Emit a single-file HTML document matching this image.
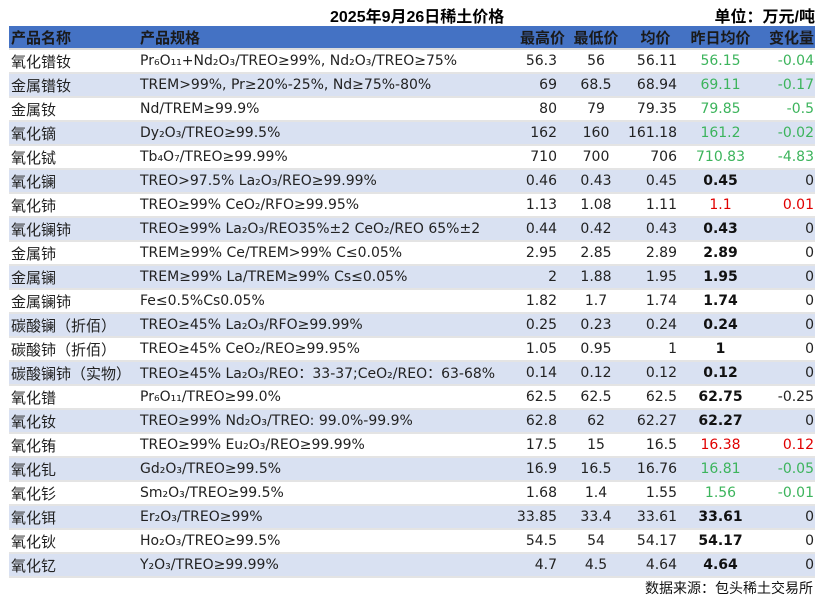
<!DOCTYPE html>
<html><head><meta charset="utf-8"><style>
body{margin:0;width:819px;height:596px;background:#fff;font-family:"DejaVu Sans","Noto Sans CJK SC",sans-serif;position:relative;overflow:hidden;color:#222}
.t{position:absolute;top:3px;font-weight:bold;font-size:16px;color:#000;font-family:"Liberation Sans","Noto Sans CJK SC",sans-serif}
table{position:absolute;left:9px;top:26px;border-collapse:collapse;table-layout:fixed;font-size:14px}
td{height:22px;padding:0;white-space:nowrap;overflow:visible;border-bottom:2px solid #e4e4e4}
tr.h td{background:#4472C4;font-weight:bold;font-size:15px;color:#1a1a1a;height:22px;border-bottom:2px solid #ddd;font-family:"Liberation Sans","Noto Sans CJK SC",sans-serif}
tr:nth-child(odd):not(.h) td{background:#D9E1F2}
td.n{padding-left:2px;font-size:15px}
td.a{text-align:right;padding-right:10px}
td.b{text-align:center}
td.c{text-align:right;padding-right:9px}
td.d{text-align:center}
td.e{text-align:right;padding-right:1px}
.g{color:#3cb45c}.r{color:#e00000}.k{font-weight:bold;color:#111}
.f{position:absolute;right:6px;top:578px;font-size:14px;color:#111;font-family:"Noto Sans CJK SC",sans-serif}
</style></head><body>
<div class="t" style="left:330px">2025年9月26日稀土价格</div>
<div class="t" style="right:4px">单位：万元/吨</div>
<table>
<colgroup><col style="width:131px"><col style="width:370px"><col style="width:57px"><col style="width:58px"><col style="width:61px"><col style="width:69px"><col style="width:60px"></colgroup>
<tr class="h"><td class="n">产品名称</td><td>产品规格</td><td class="a" style="padding-right:2px">最高价</td><td class="b">最低价</td><td class="b">均价</td><td class="d">昨日均价</td><td class="e">变化量</td></tr>
<tr><td class="n">氧化镨钕</td><td>Pr₆O₁₁+Nd₂O₃/TREO≥99%, Nd₂O₃/TREO≥75%</td><td class="a">56.3</td><td class="b">56</td><td class="c">56.11</td><td class="d g">56.15</td><td class="e g">-0.04</td></tr>
<tr><td class="n">金属镨钕</td><td>TREM&gt;99%, Pr≥20%-25%, Nd≥75%-80%</td><td class="a">69</td><td class="b">68.5</td><td class="c">68.94</td><td class="d g">69.11</td><td class="e g">-0.17</td></tr>
<tr><td class="n">金属钕</td><td>Nd/TREM≥99.9%</td><td class="a">80</td><td class="b">79</td><td class="c">79.35</td><td class="d g">79.85</td><td class="e g">-0.5</td></tr>
<tr><td class="n">氧化镝</td><td>Dy₂O₃/TREO≥99.5%</td><td class="a">162</td><td class="b">160</td><td class="c">161.18</td><td class="d g">161.2</td><td class="e g">-0.02</td></tr>
<tr><td class="n">氧化铽</td><td>Tb₄O₇/TREO≥99.99%</td><td class="a">710</td><td class="b">700</td><td class="c">706</td><td class="d g">710.83</td><td class="e g">-4.83</td></tr>
<tr><td class="n">氧化镧</td><td>TREO&gt;97.5% La₂O₃/REO≥99.99%</td><td class="a">0.46</td><td class="b">0.43</td><td class="c">0.45</td><td class="d k">0.45</td><td class="e">0</td></tr>
<tr><td class="n">氧化铈</td><td>TREO≥99% CeO₂/RFO≥99.95%</td><td class="a">1.13</td><td class="b">1.08</td><td class="c">1.11</td><td class="d r">1.1</td><td class="e r">0.01</td></tr>
<tr><td class="n">氧化镧铈</td><td>TREO≥99% La₂O₃/REO35%±2 CeO₂/REO 65%±2</td><td class="a">0.44</td><td class="b">0.42</td><td class="c">0.43</td><td class="d k">0.43</td><td class="e">0</td></tr>
<tr><td class="n">金属铈</td><td>TREM≥99% Ce/TREM&gt;99% C≤0.05%</td><td class="a">2.95</td><td class="b">2.85</td><td class="c">2.89</td><td class="d k">2.89</td><td class="e">0</td></tr>
<tr><td class="n">金属镧</td><td>TREM≥99% La/TREM≥99% Cs≤0.05%</td><td class="a">2</td><td class="b">1.88</td><td class="c">1.95</td><td class="d k">1.95</td><td class="e">0</td></tr>
<tr><td class="n">金属镧铈</td><td>Fe≤0.5%Cs0.05%</td><td class="a">1.82</td><td class="b">1.7</td><td class="c">1.74</td><td class="d k">1.74</td><td class="e">0</td></tr>
<tr><td class="n">碳酸镧（折佰）</td><td>TREO≥45% La₂O₃/RFO≥99.99%</td><td class="a">0.25</td><td class="b">0.23</td><td class="c">0.24</td><td class="d k">0.24</td><td class="e">0</td></tr>
<tr><td class="n">碳酸铈（折佰）</td><td>TREO≥45% CeO₂/REO≥99.95%</td><td class="a">1.05</td><td class="b">0.95</td><td class="c">1</td><td class="d k">1</td><td class="e">0</td></tr>
<tr><td class="n">碳酸镧铈（实物）</td><td>TREO≥45% La₂O₃/REO：33-37;CeO₂/REO：63-68%</td><td class="a">0.14</td><td class="b">0.12</td><td class="c">0.12</td><td class="d k">0.12</td><td class="e">0</td></tr>
<tr><td class="n">氧化镨</td><td>Pr₆O₁₁/TREO≥99.0%</td><td class="a">62.5</td><td class="b">62.5</td><td class="c">62.5</td><td class="d k">62.75</td><td class="e">-0.25</td></tr>
<tr><td class="n">氧化钕</td><td>TREO≥99% Nd₂O₃/TREO: 99.0%-99.9%</td><td class="a">62.8</td><td class="b">62</td><td class="c">62.27</td><td class="d k">62.27</td><td class="e">0</td></tr>
<tr><td class="n">氧化铕</td><td>TREO≥99% Eu₂O₃/REO≥99.99%</td><td class="a">17.5</td><td class="b">15</td><td class="c">16.5</td><td class="d r">16.38</td><td class="e r">0.12</td></tr>
<tr><td class="n">氧化钆</td><td>Gd₂O₃/TREO≥99.5%</td><td class="a">16.9</td><td class="b">16.5</td><td class="c">16.76</td><td class="d g">16.81</td><td class="e g">-0.05</td></tr>
<tr><td class="n">氧化钐</td><td>Sm₂O₃/TREO≥99.5%</td><td class="a">1.68</td><td class="b">1.4</td><td class="c">1.55</td><td class="d g">1.56</td><td class="e g">-0.01</td></tr>
<tr><td class="n">氧化铒</td><td>Er₂O₃/TREO≥99%</td><td class="a">33.85</td><td class="b">33.4</td><td class="c">33.61</td><td class="d k">33.61</td><td class="e">0</td></tr>
<tr><td class="n">氧化钬</td><td>Ho₂O₃/TREO≥99.5%</td><td class="a">54.5</td><td class="b">54</td><td class="c">54.17</td><td class="d k">54.17</td><td class="e">0</td></tr>
<tr><td class="n">氧化钇</td><td>Y₂O₃/TREO≥99.99%</td><td class="a">4.7</td><td class="b">4.5</td><td class="c">4.64</td><td class="d k">4.64</td><td class="e">0</td></tr>
</table>
<div class="f">数据来源：包头稀土交易所</div>
</body></html>
